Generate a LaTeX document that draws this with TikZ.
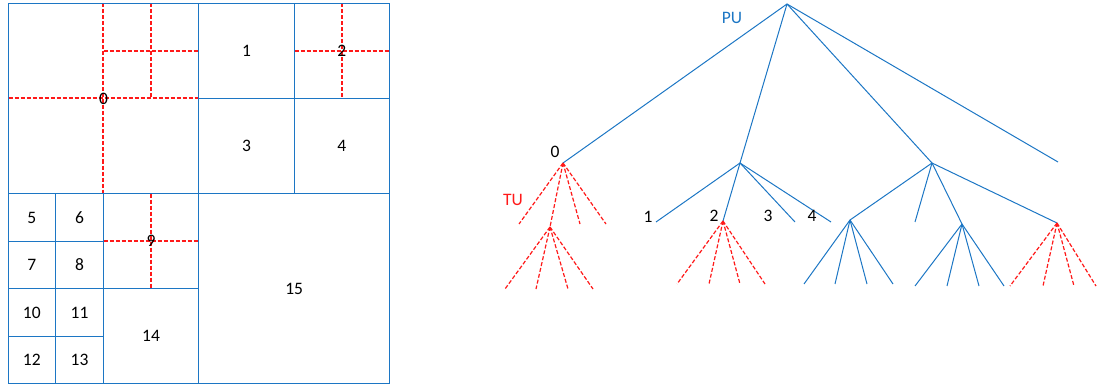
\documentclass[tikz,border=0pt]{standalone}
\usepackage{fontspec}
\setmainfont{Carlito}
\definecolor{puBlue}{RGB}{28,118,196}
\definecolor{tuRed}{RGB}{255,25,25}

\begin{document}
\begin{tikzpicture}[x=1pt,y=-1pt,
  pu/.style={draw=puBlue, line width=1pt},
  tu/.style={draw=tuRed, dash pattern=on 4pt off 2pt, line width=1.2pt},
  lbl/.style={font=\fontsize{17.5}{20}\selectfont, inner sep=0pt}]

\useasboundingbox (0,0) rectangle (1097,385);

% grid lines of the partition
\pgfmathsetmacro{\xa}{8.5};
\pgfmathsetmacro{\xb}{103.5};
\pgfmathsetmacro{\xc}{198.5};
\pgfmathsetmacro{\xd}{294.5};
\pgfmathsetmacro{\xe}{389.5};
\pgfmathsetmacro{\ya}{3.5};
\pgfmathsetmacro{\yb}{98.5};
\pgfmathsetmacro{\yc}{193.5};
\pgfmathsetmacro{\yd}{288.5};
\pgfmathsetmacro{\ye}{383.5};

% transform splits
\draw[tu] (\xa,98) -- (\xc,98);
\draw[tu] (103,\ya) -- (103,\yc);
\draw[tu] (\xb,51) -- (\xc,51);
\draw[tu] (151,\ya) -- (151,\yb);
\draw[tu] (\xd,51) -- (\xe,51);
\draw[tu] (342,\ya) -- (342,\yb);
\draw[tu] (\xb,241) -- (\xc,241);
\draw[tu] (151,\yc) -- (151,\yd);

% prediction splits
\draw[pu] (\xa,\ya) rectangle (\xe,\ye);
\draw[pu] (\xc,\ya) -- (\xc,\ye);
\draw[pu] (\xa,\yc) -- (\xe,\yc);
\draw[pu] (\xd,\ya) -- (\xd,\yc);
\draw[pu] (\xc,\yb) -- (\xe,\yb);
\draw[pu] (\xb,\yc) -- (\xb,\ye);
\draw[pu] (\xa,\yd) -- (\xc,\yd);
\draw[pu] (55.5,\yc) -- (55.5,\ye);
\draw[pu] (\xa,241.5) -- (\xb,241.5);
\draw[pu] (\xa,336.5) -- (\xb,336.5);

% block numbers
\node[lbl] (blk0) at (\xb,\yb) {0};
\node[lbl] (blk1) at (246.5,50.9) {1};
\node[lbl] (blk2) at (341.9,50.9) {2};
\node[lbl] (blk3) at (246.5,146.1) {3};
\node[lbl] (blk4) at (341.9,146.1) {4};
\node[lbl] (blk5) at (31.8,217.5) {5};
\node[lbl] (blk6) at (79.5,217.5) {6};
\node[lbl] (blk7) at (31.8,265) {7};
\node[lbl] (blk8) at (79.5,265) {8};
\node[lbl] (blk9) at (151.1,241.3) {9};
\node[lbl] (blk10) at (31.8,312.4) {10};
\node[lbl] (blk11) at (79.5,312.4) {11};
\node[lbl] (blk12) at (31.8,360) {12};
\node[lbl] (blk13) at (79.5,360) {13};
\node[lbl] (blk14) at (151.1,336) {14};
\node[lbl] (blk15) at (294.2,288.8) {15};

% tree nodes
\coordinate (root) at (787,4);
\coordinate (n0) at (563,163);
\coordinate (n1) at (740,163);
\coordinate (n2) at (932,163);
\coordinate (n3) at (1058,162);

\coordinate (t0a) at (519,224);
\coordinate (t0b) at (550,227);
\coordinate (t0c) at (580,224);
\coordinate (t0d) at (606,224);

\coordinate (b1) at (656,222);
\coordinate (b2) at (723,221);
\coordinate (b3) at (795,222);
\coordinate (b4) at (831,222);

\coordinate (c1) at (850,220);
\coordinate (c2) at (915,222);
\coordinate (c3) at (962,224);
\coordinate (c4) at (1057,223);

% prediction units
\foreach \c in {n0,n1,n2,n3} \draw[pu] (root) -- (\c);
\foreach \c in {b1,b2,b3,b4} \draw[pu] (n1) -- (\c);
\foreach \c in {c1,c2,c3,c4} \draw[pu] (n2) -- (\c);
\foreach \x in {804,835,867,893} \draw[pu] (c1) -- (\x,284);
\foreach \x in {915,947,979,1004} \draw[pu] (c3) -- (\x,286);

% transform units
\foreach \c in {t0a,t0b,t0c,t0d} \draw[tu] (n0) -- (\c);
\foreach \x in {505,536,568,593} \draw[tu] (t0b) -- (\x,289);
\foreach \x in {677,709,740,765} \draw[tu] (b2) -- (\x,284);
\foreach \x in {1010,1043,1074,1096} \draw[tu] (c4) -- (\x,286);

% tree labels
\node[lbl, text=puBlue] (puLbl) at (732,18) {PU};
\node[lbl, text=tuRed] (tuLbl) at (513,200) {TU};
\node[lbl] (lbl0) at (555,152) {0};
\node[lbl] (lbl1) at (648,217) {1};
\node[lbl] (lbl2) at (714,216) {2};
\node[lbl] (lbl3) at (768,216) {3};
\node[lbl] (lbl4) at (812,216) {4};
\end{tikzpicture}
\end{document}
